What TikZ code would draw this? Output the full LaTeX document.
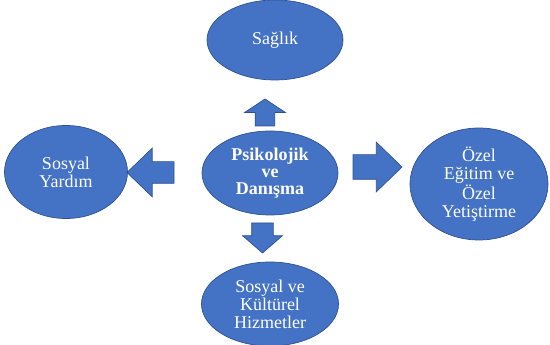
\documentclass[tikz,border=0pt]{standalone}
\usepackage{fontspec}
\setmainfont{Liberation Serif}
\usetikzlibrary{shapes.geometric,shapes.arrows}
\definecolor{ofisblue}{HTML}{4472C4}
\definecolor{ofisline}{HTML}{2F528F}
\tikzset{
    alan/.style={ellipse, fill=ofisblue, draw=ofisline, line width=0.7pt,
        text=white, align=center, inner sep=0pt,
        font=\fontsize{18}{18}\selectfont},
    blok/.style={single arrow, fill=ofisblue, draw=ofisline, line width=0.7pt,
        inner sep=0pt, outer sep=0pt, text depth=0pt, anchor=tail,
        single arrow head indent=0pt}
}
\begin{document}
\begin{tikzpicture}[x=1pt,y=1pt]
    \useasboundingbox (0,0) rectangle (550,345);
    % fields round the centre
    \node[alan, minimum width=136, minimum height=80] (saglik) at (275,305) {Sağlık};
    \node[alan, minimum width=136, minimum height=84,
        font=\bfseries\fontsize{18}{17}\selectfont] (psiko) at (270,172)
        {Psikolojik\\ve\\Danışma};
    \node[alan, minimum width=123, minimum height=93] (yardim) at (66,173) {Sosyal\\Yardım};
    \node[alan, minimum width=138, minimum height=112] (ozel) at (479,161)
        {Özel\\Eğitim ve\\Özel\\Yetiştirme};
    \node[alan, minimum width=137, minimum height=84] (kultur) at (270,41)
        {Sosyal ve\\Kültürel\\Hizmetler};
    % block arrows
    \node[blok, rotate=90, text height=19, minimum height=27,
        single arrow head extend=10.5, single arrow tip angle=113] (okyukari) at (265,219) {};
    \node[blok, rotate=180, text height=21, minimum height=47,
        single arrow head extend=13.5, single arrow tip angle=88] (oksol) at (174,172.5) {};
    \node[blok, text height=24, minimum height=49,
        single arrow head extend=12.5, single arrow tip angle=88] (oksag) at (353,178) {};
    \node[blok, rotate=270, text height=21, minimum height=30,
        single arrow head extend=9, single arrow tip angle=98] (okasagi) at (262.5,122) {};
\end{tikzpicture}
\end{document}
